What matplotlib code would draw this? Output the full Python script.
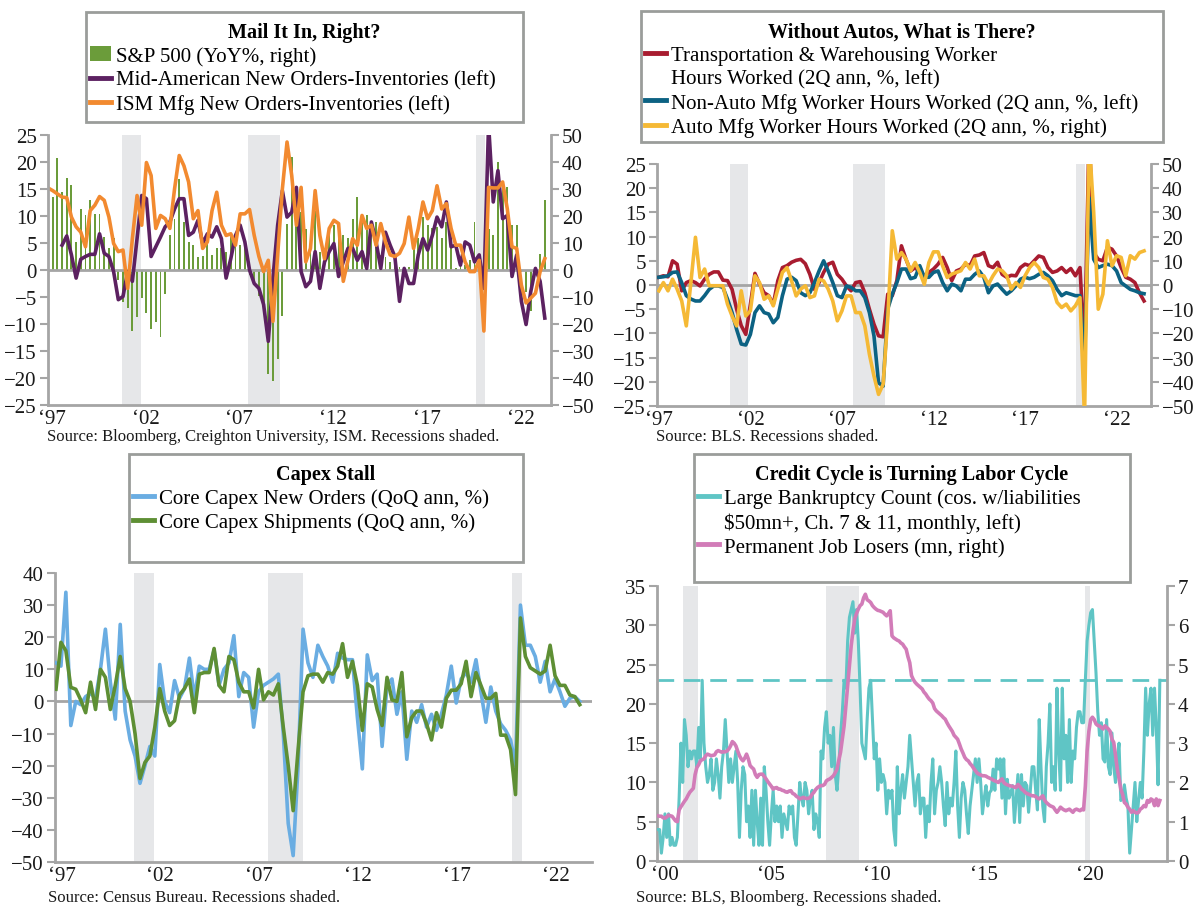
import numpy as np
import matplotlib
matplotlib.use("Agg")
import matplotlib.pyplot as plt
from matplotlib.patches import Patch, Rectangle
from matplotlib.lines import Line2D

plt.rcParams["font.family"] = ["Liberation Serif", "DejaVu Serif"]

# ── data ─────────────────────────────────────────────────────────────────────
# panel 1: quarterly, x in axis-label years
p1_start = 1996.8
sp500_yoy = [21.2, 27, 41.3, 28.8, 34, 31.5, 10.4, 22.7, 20.2, 25.8, 20.9, 20.9, 12.3, 8, 11.7,
             -3.7, -11.7, -14.1, -22.5, -17.5, -10.2, -16, -21.8, -19.3, -24.7, -8.8, 13.1, 19,
             33.7, 17.8, 10.4, 9.2, 4.9, 5.2, 12.9, 5.5, 8, 8, 6.7, 12.9, 11.7, 9.2, 8, -1.8, -5.5,
             -9.8, -14.1, -38.4, -41.1, -33.1, -17.2, 17.2, 41.7, 28.8, 21.5, 15.3, 6.7, 21.7, 6.7,
             3.7, 12.9, 16.6, 16, 12.9, 11.7, 18.8, 27, 20.2, 20.2, 17.8, 17.8, 5.5, 4.9, 3.1, 3.1,
             1.2, 1.2, 1.2, 8, 11.7, 19.6, 16.6, 15.6, 16, 11.7, 17.8, 10.4, 0.9, 1.8, 1.8, 3.7,
             17.8, 4.3, 5.5, 15.3, 12.9, 39.9, 30.3, 30.7, 16.6, 16.6, -0.6, -8, -15.3, -0.6, 6.1,
             25.8]
ism_no_inv = [15.2, 14.7, 14.1, 13.5, 13.4, 9.8, 8.0, 7.0, 4.3, 11.0, 12.0, 13.6, 12.9, 9.8, 4.9,
              3.4, 3.7, -3.4, 5.8, 13.8, 8.3, 19.9, 17.5, 7.7, 10.1, 9.5, 7.7, 15.0, 21.2, 19.3,
              16.3, 9.5, 11.0, 4.0, 5.2, 11.0, 14.4, 8.3, 6.4, 6.7, 4.6, 10.4, 10.4, 11.2, 6.4, 2.5,
              -0.3, 1.8, -9.5, 2.8, 15.0, 23.7, 17.5, 8.3, 15.3, 1.5, 4.0, 14.7, 6.4, 2.1, 7.7, 9.2,
              8.6, -2.1, 1.8, 5.8, 4.6, 10.1, 7.7, 8.3, 4.6, 8.6, 5.2, 2.8, 2.5, 3.1, 4.9, 9.8, 4.0,
              7.7, 12.6, 9.5, 11.0, 15.6, 11.3, 12.3, 7.7, 4.6, 4.6, 1.5, -0.3, -0.3, 1.8, -11.3,
              15.3, 15.2, 15.2, 16.3, 11.3, 4.3, 4.0, -2.8, -6.1, -5.2, -4.3, -0.3, 2.1]
mid_am_no_inv = [4.6, 6.3, 2.8, -1.5, 2, 2.5, 2.9, 2.9, 6.7, 3.1, 2.5, -0.3, -5.5, -4.9, -0.3, -2.1,
                 5.8, 13.8, 13.2, 2.5, 4.3, 6.1, 8, 8.9, 11.3, 13.2, 13.2, 6.4, 7, 9.2, 4.9, 6.7,
                 6.1, 8, 5.8, -1.5, 2.1, 6.4, 8.3, 5.2, 0, -2.5, -3.4, -6.4, -13.2, -1.5, 8.3, 14.7,
                 9.8, 10.7, 15.3, -0.3, -3.1, -2.1, 3.4, -3.4, 1.5, 3.4, 4.9, -1.2, 1.5, 4, 4, 1.8,
                 3.4, 0.3, 8.9, 5.2, 0.3, 7, 4.6, 2.5, -5.8, 0.3, -2.5, -2.5, 2.8, 5.8, 3.7, 6.4,
                 9.8, 8, 12.6, 4.3, 4.6, 0.9, 5.2, 4.6, 1.5, 2.8, -3.4, 27, 12.6, 18.4, 9.5, 10.1,
                 -1.2, 2.8, -5.8, -10.1, -4, 0.3, -2.1, -8.9]
mid_am_offset = 3   # first Mid-American quarter is 3 quarters after the ISM start

# panel 2: quarterly 2Q annualized, x in axis-label years
p2_start = 1997.0
transp_hours = [1.6, 1.9, 1.7, 5, 4.3, -1.2, 0.5, 0.9, 0.5, -0.2, 1.2, 2.2, 2.7, 2.7, 1, 0.9, -0.9,
                -5, -8.4, -10.2, -4, 2.4, 0.2, -1.6, -2.2, -4, 0.9, 3.6, 4, 4.7, 5.1, 5.3, 4.4, 2.2,
                -0.9, 0.5, 2.6, 4.3, 4.7, 2.2, 1.2, -0.2, -1.2, 0.5, 0.7, -1.6, -5, -8.1, -10.5,
                -10.7, -1.9, -2.2, 0.9, 8.1, 5.3, 2.9, 3.6, 2.6, 1.9, 2.6, 3.3, 4.3, 5.7, 3.6, 0.9,
                2.9, 3.3, 4.3, 4, 6, 6.2, 6.7, 4, 3.6, 4.7, 2.2, 1.6, 2, 1.9, 3.6, 4.3, 4, 5, 6, 5.7,
                3.6, 2.6, 2.9, 3.6, 2.6, 3.4, 1.9, 3.6, -14, 32, 6.7, 5.3, 5, 7.8, 7.4, 6, 3.6, 1.6,
                1.2, 0.5, -1.6, -3.3]
nonauto_hours = [1.6, 1.7, 1.9, 2.6, 2.7, 0.5, -2.2, -2.9, -3.3, -3.3, -2.2, -0.9, -0.2, -0.2, -0.5,
                 -2.9, -5.7, -9.2, -12.2, -12.4, -10.2, -5.7, -4.3, -5.7, -6, -7.8, -6.7, -2.2, 1.2,
                 1.6, 0.9, -1.6, -2.2, -1.6, 0.5, 2.9, 5, 2.9, 0.5, -2.2, -2.6, -0.2, -0.5, -1.2,
                 -1.2, -2.6, -5.7, -10.5, -20.2, -20.9, -5, -1.9, 0.5, 3.3, 3.3, 1.3, 1.6, 4, 1.6,
                 1.6, 2.6, 2.9, 0.5, -1.2, 0.2, -0.2, -1.2, 1.2, 1.2, 2.2, 2.9, 1.6, -1.6, -0.2, 0.2,
                 -0.9, -1.9, -1.2, -0.2, 1.2, 1.6, 1.3, 1.6, 2.2, 2.6, 1.9, 0.9, -0.9, -2.2, -1.6,
                 -1.9, -2.2, -2.2, -16, 18, 5.3, 3.6, 4, 4.3, 4, 2.9, 0.5, -0.2, -0.9, -1.2, -1.6,
                 -1.8]
auto_hours = [-2.4, 1, -2.4, 2.4, -1.7, -6.6, -16.9, 1, 19.7, 3.1, 6.6, -0.3, -0.3, -0.3, -0.3,
              -7.9, -12.8, -16.9, -2.4, -12.8, -10.7, 3.8, 1, -5.9, -4.5, -8.6, -1.7, 5.2, 7.2, 1.7,
              -4.5, -1.7, -0.3, -5.2, -4.5, 2.4, 1.7, -1.7, -6.6, -14.8, -10.7, -4.5, -4.5, -11.4,
              -11.4, -16.9, -28.6, -37.6, -45.2, -41, -14.1, 22.4, 10.7, 13.4, 10.7, 5.9, 9.3, 5.2,
              0.3, 9.3, 13.7, 13.7, 7.9, 3.1, 4.5, 5.2, 5.9, 9.3, 6.6, 10.7, 3.8, 3.8, 0.3, 3.8,
              6.6, 5.9, 3.8, -1.7, 1, -1, 3.8, 7.2, 9.3, 7.2, 3.1, 2.4, -1, -7.2, -9.3, -7.9, -10.7,
              -8.6, -5.2, -55, 60, 30, -10, -3.8, 18.3, 7.9, 12.1, 11.4, 3.8, 12.1, 10.7, 13.4,
              14.1]

# panel 3: quarterly QoQ annualized, x in axis-label years
p3_start = 1996.72
capex_orders = [12, 11, 34, -7.5, 0, -1, 1.5, 2.5, 1, 10, 22.5, 6, -5.5, 24, -3, -12, -17, -25.5,
                -20, -14, -17, 11.5, 0, -3.5, 6.5, 1, 4, 13.5, 1, 11, 10, 10, 16, 5, 10, 12, 20.5,
                1.5, 9, 7.5, -8, 3, 5, 6, 7, 8.5, -10, -38, -48, -20, 22.5, 12, 7.5, 17.5, 14, 11,
                6, 15, 13.5, 13, 13, -5, -21, 14.5, 6.5, 8.5, -14, 5, 7, -4, 3, -18, -3, -6.5, -1,
                -8, -4, -9, -4, 2, 11, -0.5, 7, 9, 6, 13, 3, -6.5, 4.5, -3, -7, -9, -12, -20, 30,
                17.5, 17.5, 14, 6, 12.5, 3, 7, 3, -1.5, 1, 1.5, 0]
capex_ship = [3.8, 18.4, 15.8, 4.4, 3.8, 0.5, -3.5, 6, -2.5, 10, 7.5, -2.5, 5, 14, 4, 0, -10, -24,
              -19, -17, -8, 4, -3, -7.5, -6, 2, 4, 7, -3.5, 8.5, 9, 9, 16.5, 5, 3, 14, 13, 6, 3, 3,
              -2, 10, 0.5, 3, 2, 5.5, -8, -20, -34, -15, 3, 8, 8.5, 8.5, 6, 9, 8.5, 11, 18, 7.5,
              12.5, 5, -9, 5.5, 4.5, -2.5, -7.5, 7.5, 0.5, 0, 9, -11, -5, -3, -3, -7, -12, -3.5,
              -8, 1, 3.5, 3.5, 5.5, 12.5, 1.5, 9, 5, 1, 1, 2.5, -10.5, -10.5, -15, -29, 26, 14,
              10.5, 9.5, 8.5, 9.5, 17.5, 8, 5, 5, 2, 1.5, -1]

# panel 4: monthly from Jan 2000, x in axis-label years
p4_start = 1999.69
bankruptcies = [
    4, 4, 1, 3, 6, 3, 6, 2, 3, 2, 2, 3,                     # 2000
    8, 15, 10, 18, 16, 12, 14, 13, 14, 14, 12, 17,          # 2001
    13, 23, 15, 12, 10, 11, 13, 9, 10, 13, 11, 8,           # 2002
    12, 14, 18, 14, 10, 13, 10, 12, 14, 10, 3, 9,           # 2003
    12, 11, 5, 7, 3, 9, 2, 9, 5, 2, 8, 2,                   # 2004
    12, 9, 5, 2, 6, 9, 5, 7, 5, 7, 3, 6,                    # 2005
    5, 4, 7, 6, 7, 3, 2, 6, 10, 8, 7, 10,                   # 2006
    9, 6, 8, 9, 4, 6, 5, 3, 14, 13, 17, 19,                 # 2007
    15, 16, 12, 17, 11, 9, 12, 16, 19, 23, 22, 28,          # 2008
    31, 32, 33, 29, 32, 28, 22, 15, 14, 13, 18, 22,         # 2009
    23, 18, 13, 15, 9, 13, 10, 11, 10, 6, 9, 8,             # 2010
    9, 4, 2, 12, 6, 9, 11, 8, 10, 12, 16, 13,               # 2011
    10, 7, 10, 11, 6, 8, 8, 3, 7, 5, 10, 13,                # 2012
    6, 9, 10, 12, 10, 7, 4.5, 10, 6, 8, 7, 10,              # 2013
    14, 7, 3, 8, 10, 9, 6, 3.5, 7, 9, 11, 13,               # 2014
    10, 13, 10, 6, 8, 9.6, 7, 8.7, 9, 11.7, 9, 13,          # 2015
    11.7, 13, 8, 13, 6, 10.4, 8, 8.7, 9.6, 4.9, 8, 11,      # 2016
    4.9, 11, 7, 10, 9.6, 6.2, 9, 12, 12, 9, 6.5, 18,        # 2017
    12, 7, 5, 12, 15, 20, 10, 12, 9, 22, 14, 9,             # 2018
    22, 13, 16, 10, 18, 10, 14, 13, 17, 19, 19, 17.6,       # 2019
    17.6, 23, 28, 30, 31.6, 32, 28, 24, 19, 16, 17.6, 13,   # 2020
    12.6, 18, 12, 11, 16.3, 12, 10, 13, 15, 7.7, 8, 9.7,    # 2021
    8, 7, 1, 4, 7, 10, 5, 7.7, 10, 8, 14, 22,               # 2022
    16, 20, 22, 16, 22, 17, 9.7, 23,                        # 2023
]
perm_job_losers = [
    1.15, 1.14, 1.14, 1.10, 1.09, 1.12, 1.17, 1.15, 1.14, 1.08, 1.02, 1.0,
    1.3, 1.38, 1.45, 1.52, 1.58, 1.67, 1.75, 1.8, 1.85, 2.2, 2.38, 2.45,
    2.55, 2.58, 2.6, 2.68, 2.72, 2.7, 2.68, 2.69, 2.7, 2.78, 2.81, 2.79,
    2.77, 2.78, 2.78, 2.8, 2.85, 2.93, 3.04, 3.0, 2.93, 2.8, 2.68, 2.6,
    2.55, 2.62, 2.72, 2.6, 2.43, 2.38, 2.34, 2.2, 2.13, 2.2, 2.21, 2.21,
    2.15, 2.09, 2.02, 1.96, 1.9, 1.83, 1.86, 1.87, 1.83, 1.83, 1.8, 1.79,
    1.76, 1.75, 1.78, 1.79, 1.72, 1.7, 1.65, 1.62, 1.58, 1.6, 1.62, 1.6,
    1.59, 1.6, 1.62, 1.7, 1.75, 1.82, 1.87, 1.9, 1.92, 1.92, 1.95, 2.04,
    2.07, 2.09, 2.13, 2.17, 2.25, 2.34, 2.55, 2.77, 3.1, 3.44, 3.95, 4.46,
    5.0, 5.48, 5.85, 6.16, 6.3, 6.41, 6.5, 6.54, 6.7, 6.79, 6.65, 6.62,
    6.58, 6.5, 6.45, 6.41, 6.38, 6.37, 6.35, 6.33, 6.28, 6.24, 6.3, 6.37,
    5.73, 5.68, 5.65, 5.62, 5.6, 5.55, 5.52, 5.45, 5.39, 5.2, 5.05, 4.72,
    4.62, 4.55, 4.5, 4.46, 4.42, 4.38, 4.3, 4.25, 4.18, 4.12, 4.08, 4.02,
    3.88, 3.82, 3.78, 3.74, 3.7, 3.65, 3.61, 3.52, 3.44, 3.37, 3.3, 3.2,
    3.15, 3.1, 2.98, 2.85, 2.75, 2.64, 2.58, 2.55, 2.48, 2.43, 2.36, 2.3,
    2.24, 2.21, 2.19, 2.17, 2.17, 2.16, 2.13, 2.11, 2.09, 2.06, 2.04, 2.02,
    2.0, 2.05, 2.09, 2.0, 1.96, 1.94, 1.92, 1.91, 1.9, 1.88, 1.87, 1.95,
    1.9, 1.83, 1.8, 1.75, 1.72, 1.7, 1.68, 1.66, 1.66, 1.64, 1.6, 1.58,
    1.62, 1.66, 1.55, 1.49, 1.45, 1.41, 1.39, 1.37, 1.3, 1.24, 1.3, 1.37,
    1.33, 1.3, 1.28, 1.3, 1.32, 1.28, 1.24, 1.3, 1.32, 1.3, 1.28, 1.32,
    1.3, 1.9, 2.8, 3.3, 3.6, 3.66, 3.6, 3.49, 3.45, 3.44, 3.4, 3.36,
    3.44, 3.4, 3.36, 3.3, 3.1, 3.02, 2.7, 2.34, 2.1, 1.83, 1.7, 1.49,
    1.45, 1.37, 1.32, 1.24, 1.28, 1.24, 1.22, 1.24, 1.32, 1.35, 1.41, 1.38,
    1.54, 1.5, 1.58, 1.55, 1.41, 1.58, 1.41, 1.54,
]
bankr_ref_level = 23

# recession bands (axis-label years) per panel
rec_p1 = [(2000.75, 2001.74), (2007.47, 2009.2), (2019.65, 2020.12)]
rec_p2 = [(2000.91, 2001.87), (2007.61, 2009.34), (2019.8, 2020.28)]
rec_p3 = [(2000.68, 2001.67), (2007.47, 2009.21), (2019.79, 2020.31)]
rec_p4 = [(2000.86, 2001.57), (2007.58, 2009.14), (2019.78, 2019.98)]

years_97 = [1997, 2002, 2007, 2012, 2017, 2022]
labels_97 = ["\u201897", "\u201802", "\u201807", "\u201812", "\u201817", "\u201822"]
years_00 = [2000, 2005, 2010, 2015, 2020]
labels_00 = ["\u201800", "\u201805", "\u201810", "\u201815", "\u201820"]

# ── styling helpers ──────────────────────────────────────────────────────────
W, H = 1200, 920
AXC = "#a5a5a5"
SHADE = "#e6e7e9"
TXT = "#1a1a1a"
TICK_FS = 15
LEG_FS = 15
SRC_FS = 12

fig = plt.figure(figsize=(W / 100, H / 100), dpi=100)


def px_axes(left, top, right, bottom):
    return fig.add_axes([left / W, 1 - bottom / H, (right - left) / W, (bottom - top) / H])


def style(ax, side="left"):
    for s in ax.spines.values():
        s.set_visible(False)
    ax.spines[side].set_visible(True)
    ax.spines[side].set_color(AXC)
    ax.spines[side].set_linewidth(2)
    ax.spines["bottom"].set_visible(True)
    ax.spines["bottom"].set_color(AXC)
    ax.spines["bottom"].set_linewidth(2)
    ax.tick_params(axis="y", direction="out", length=6, width=1.5, color=AXC,
                   labelsize=TICK_FS, labelcolor=TXT, pad=2)
    ax.tick_params(axis="x", length=0, labelsize=TICK_FS, labelcolor=TXT, pad=3)


def shade(ax, bands):
    for a, b in bands:
        ax.axvspan(a, b, color=SHADE, lw=0, zorder=0)


def legend_box(handles, labels, title, left, top, right, bottom):
    # frame drawn separately so the box size matches the reference
    fig.patches.append(Rectangle((left / W, 1 - bottom / H), (right - left) / W, (bottom - top) / H,
                                 transform=fig.transFigure, facecolor="white",
                                 edgecolor="#9a9d9a", lw=2, zorder=5))
    leg = fig.legend(handles, labels, title=title, loc="upper left",
                     bbox_to_anchor=(left / W, 1 - (top + 6) / H, (right - left) / W, 0),
                     mode="expand", borderaxespad=0, fontsize=LEG_FS, handlelength=1.0,
                     handletextpad=0.25, labelspacing=0.2, borderpad=0.2, frameon=False,
                     title_fontproperties={"weight": "bold", "size": 14.5})
    leg.set_zorder(6)
    return leg


BLANK = Line2D([], [], color="none")

# ── panel 1: Mail It In, Right? ──────────────────────────────────────────────
ax1 = px_axes(48, 136, 551, 406)
ax1r = ax1.twinx()
ax1.set_zorder(ax1r.get_zorder() + 1)
ax1.patch.set_visible(False)

q1 = p1_start + np.arange(len(ism_no_inv)) * 0.25
q1_mid = p1_start + (np.arange(len(mid_am_no_inv)) + mid_am_offset) * 0.25
q1_sp = p1_start + np.arange(len(sp500_yoy)) * 0.25
shade(ax1r, rec_p1)
ax1r.bar(q1_sp, sp500_yoy, width=0.1, color="#6b9c3a", zorder=2)
ax1r.axhline(0, color=AXC, lw=2, zorder=3)
ax1.plot(q1_mid, mid_am_no_inv, color="#5c2161", lw=2.6)
ax1.plot(q1, ism_no_inv, color="#f28a30", lw=2.6)
ax1.set_ylim(-25, 25)
ax1.set_yticks(range(-25, 26, 5))
ax1r.set_ylim(-50, 50)
ax1r.set_yticks(range(-50, 51, 10))
ax1.set_xlim(1996.8, 2023.63)
ax1.set_xticks(years_97, labels_97)
style(ax1, "left")
style(ax1r, "right")
ax1r.spines["bottom"].set_visible(False)

legend_box([Patch(facecolor="#6b9c3a"),
            Line2D([], [], color="#5c2161", lw=3.5),
            Line2D([], [], color="#f28a30", lw=3.5)],
           ["S&P 500 (YoY%, right)", "Mid-American New Orders-Inventories (left)",
            "ISM Mfg New Orders-Inventories (left)"],
           "Mail It In, Right?", 86, 13, 523, 123)
fig.text(47 / W, 1 - 437 / H, "Source: Bloomberg, Creighton University, ISM. Recessions shaded.",
         fontsize=SRC_FS, va="center", color=TXT)

# ── panel 2: Without Autos, What is There? ───────────────────────────────────
ax2 = px_axes(657, 165, 1151, 407)
ax2r = ax2.twinx()
q2 = p2_start + np.arange(len(transp_hours)) * 0.25
shade(ax2, rec_p2)
ax2.axhline(0, color=AXC, lw=2, zorder=1)
ax2.plot(q2, transp_hours, color="#a81c30", lw=2.6, zorder=3)
ax2.plot(q2, nonauto_hours, color="#0c6283", lw=2.6, zorder=3)
ax2r.plot(q2, auto_hours, color="#f5b935", lw=2.6)
ax2.set_ylim(-25, 25)
ax2.set_yticks(range(-25, 26, 5))
ax2r.set_ylim(-50, 50)
ax2r.set_yticks(range(-50, 51, 10))
ax2.set_xlim(1996.9, 2023.88)
ax2.set_xticks(years_97, labels_97)
style(ax2, "left")
style(ax2r, "right")
ax2r.spines["bottom"].set_visible(False)

legend_box([Line2D([], [], color="#a81c30", lw=3.5), BLANK,
            Line2D([], [], color="#0c6283", lw=3.5),
            Line2D([], [], color="#f5b935", lw=3.5)],
           ["Transportation & Warehousing Worker", "Hours Worked (2Q ann, %, left)",
            "Non-Auto Mfg Worker Hours Worked (2Q ann, %, left)",
            "Auto Mfg Worker Hours Worked (2Q ann, %, right)"],
           "Without Autos, What is There?", 641, 12, 1163, 143)
fig.text(656 / W, 1 - 437 / H, "Source: BLS. Recessions shaded.",
         fontsize=SRC_FS, va="center", color=TXT)

# ── panel 3: Capex Stall ─────────────────────────────────────────────────────
ax3 = px_axes(55, 574, 592, 863)
q3 = p3_start + np.arange(len(capex_orders)) * 0.25
shade(ax3, rec_p3)
ax3.axhline(0, color=AXC, lw=2, zorder=1)
ax3.plot(q3, capex_orders, color="#6aade2", lw=2.6, zorder=3)
ax3.plot(q3, capex_ship, color="#5e8f34", lw=2.6, zorder=4)
ax3.set_ylim(-50, 40)
ax3.set_yticks(range(-50, 41, 10))
ax3.set_xlim(1996.67, 2023.84)
ax3.set_xticks(years_97, labels_97)
style(ax3, "left")

legend_box([Line2D([], [], color="#6aade2", lw=3.5),
            Line2D([], [], color="#5e8f34", lw=3.5)],
           ["Core Capex New Orders (QoQ ann, %)", "Core Capex Shipments (QoQ ann, %)"],
           "Capex Stall", 129, 455, 523, 563)
fig.text(48 / W, 1 - 898 / H, "Source: Census Bureau. Recessions shaded.",
         fontsize=SRC_FS, va="center", color=TXT)

# ── panel 4: Credit Cycle is Turning Labor Cycle ─────────────────────────────
ax4 = px_axes(657, 587, 1167, 862)
ax4r = ax4.twinx()
m4 = p4_start + np.arange(len(bankruptcies)) / 12
shade(ax4, rec_p4)
ax4.plot(m4, bankruptcies, color="#5fc5c5", lw=2.2, zorder=3)
ax4.axhline(bankr_ref_level, color="#5fc5c5", lw=2, ls=(0, (6, 3.5)), zorder=2)
ax4r.plot(m4, perm_job_losers, color="#d27cb8", lw=2.6)
ax4.set_ylim(0, 35)
ax4.set_yticks(range(0, 36, 5))
ax4r.set_ylim(0, 7)
ax4r.set_yticks(range(0, 8))
ax4.set_xlim(1999.65, 2023.61)
ax4.set_xticks(years_00, labels_00)
style(ax4, "left")
style(ax4r, "right")
ax4r.spines["bottom"].set_visible(False)

legend_box([Line2D([], [], color="#5fc5c5", lw=3.5), BLANK,
            Line2D([], [], color="#d27cb8", lw=3.5)],
           ["Large Bankruptcy Count (cos. w/liabilities", "$50mn+, Ch. 7 & 11, monthly, left)",
            "Permanent Job Losers (mn, right)"],
           "Credit Cycle is Turning Labor Cycle", 694, 455, 1130, 583)
fig.text(636 / W, 1 - 898 / H, "Source: BLS, Bloomberg. Recessions shaded.",
         fontsize=SRC_FS, va="center", color=TXT)

fig.savefig("out.png", dpi=100)
